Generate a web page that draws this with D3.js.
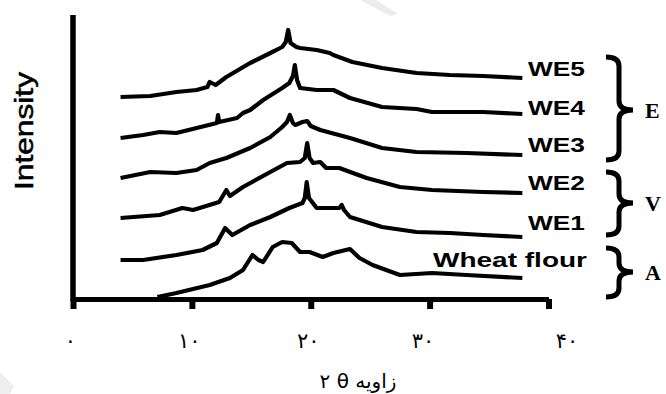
<!DOCTYPE html>
<html>
<head>
<meta charset="utf-8">
<script src="https://cdn.jsdelivr.net/npm/d3@7"></script>
<style>
  body { margin: 0; background: #fff; }
  svg { display: block; }
</style>
</head>
<body>
<script>
// 2θ (degrees), intensity (arbitrary units, stacked offsets as drawn)
const we5 = [[4.0,201],[6.5,202],[8.7,206],[10.4,208],[11.3,211],[11.5,216],[12.0,213],[12.9,221],[14.9,235],[16.6,245],[17.6,251],[17.9,256],[18.1,268],[18.3,255],[18.8,251],[19.1,250],[20.5,248],[21.6,245],[21.9,243],[23.5,236],[26.0,230],[28.9,225],[31.7,223],[34.5,222],[37.8,220]];
const we4 = [[4.0,160],[5.9,163],[7.3,166],[8.7,165],[10.4,170],[12.1,175],[12.2,183],[12.3,176],[13.8,180],[14.3,185],[14.9,188],[16.0,198],[17.6,210],[18.2,215],[18.5,222],[18.66,233],[18.85,218],[19.1,210],[20.5,208],[21.9,208],[23.3,200],[26.0,191],[28.9,189],[30.2,186],[34.5,186],[37.8,184]];
const we3 = [[4.0,120],[6.5,126],[8.7,125],[10.4,128],[11.5,135],[12.9,140],[14.9,150],[16.6,161],[17.6,171],[18.0,176],[18.24,183],[18.5,175],[18.7,173],[19.3,176],[19.7,177],[20.0,172],[20.8,168],[23.3,160],[26.0,150],[28.9,146],[33.1,145],[37.8,143]];
const we2 = [[4.0,80],[7.3,83],[9.2,90],[10.1,88],[12.3,96],[12.9,108],[13.2,102],[14.3,111],[16.6,126],[18.0,135],[19.1,136],[19.5,140],[19.7,155],[19.9,140],[20.2,135],[20.8,136],[21.3,130],[22.4,130],[24.7,120],[27.5,111],[30.2,108],[34.5,106],[37.8,105]];
const we1 = [[4.0,38],[5.9,38],[8.7,43],[10.9,48],[12.1,55],[12.8,70],[13.4,63],[14.9,73],[16.6,81],[18.2,90],[19.3,95],[19.5,100],[19.66,116],[19.85,100],[20.5,90],[21.8,90],[22.4,90],[22.6,93],[22.8,88],[23.3,81],[26.0,71],[28.9,66],[31.7,65],[34.5,63],[37.8,61]];
const wheat = [[7.1,1],[8.7,5],[11.5,13],[13.2,20],[14.3,28],[15.1,43],[15.6,38],[16.0,36],[16.8,51],[17.6,56],[18.4,55],[19.1,46],[19.9,46],[21.0,41],[21.9,45],[23.3,49],[24.1,40],[25.2,33],[27.5,23],[30.2,25],[33.1,23],[37.8,20]];

const seriesNames = ['WE5', 'WE4', 'WE3', 'WE2', 'WE1', 'Wheat flour'];
const seriesData = [we5, we4, we3, we2, we1, wheat];
const xTicks = [0, 10, 20, 30, 40];
const groupNames = ['E', 'V', 'A'];

const width = 666, height = 394;

const svg = d3.select('body').append('svg')
    .attr('width', width)
    .attr('height', height);

// faint scan watermark marks
svg.append('path').attr('d', 'M360,0L376,0L398,14L390,16Z').attr('fill', '#ececec');
svg.append('path').attr('d', 'M0,372L14,386L10,394L0,394Z').attr('fill', '#eeeeee');

const x = d3.scaleLinear().domain([0, 40]).range([73, 548.5]);
const y = d3.scaleLinear().domain([0, 283]).range([298, 15]);

const persian = d => String(d).replace(/\d/g, c => '۰۱۲۳۴۵۶۷۸۹'[c]);

// x axis
const xAxis = svg.append('g')
    .attr('transform', 'translate(0,299)')
    .call(d3.axisBottom(x).tickValues(xTicks).tickSize(10).tickSizeOuter(0).tickFormat(persian));
xAxis.select('.domain').attr('stroke', '#000').attr('stroke-width', 5);
xAxis.selectAll('.tick line').attr('stroke', '#000').attr('stroke-width', 6);
xAxis.selectAll('.tick text')
    .attr('y', 49).attr('dy', 0)
    .attr('dx', d => d === 40 ? 18 : (d === 30 ? -7 : -3))
    .attr('font-family', 'DejaVu Sans')
    .attr('font-size', 21)
    .attr('fill', '#000');

// y axis
const yAxis = svg.append('g')
    .attr('transform', 'translate(73,0)')
    .call(d3.axisLeft(y).tickValues([]).tickSizeOuter(0));
yAxis.select('.domain').attr('stroke', '#000').attr('stroke-width', 5.5)
    .attr('d', `M0,${y(283)}V${y(0) + 3}`);

// traces
const line = d3.line().x(d => x(d[0])).y(d => y(d[1]));
svg.selectAll('path.trace')
    .data(seriesData)
    .join('path')
    .attr('class', 'trace')
    .attr('d', line)
    .attr('fill', 'none')
    .attr('stroke', '#000')
    .attr('stroke-width', 4.2)
    .attr('stroke-linejoin', 'round');

// series labels
const labelPos = [[528, 76, 57], [528, 115, 57], [528, 152, 57], [528, 190, 57], [528, 230, 57], [433, 267, 154]];
svg.selectAll('text.lbl')
    .data(seriesNames)
    .join('text')
    .attr('class', 'lbl')
    .attr('x', (d, i) => labelPos[i][0])
    .attr('y', (d, i) => labelPos[i][1])
    .attr('textLength', (d, i) => labelPos[i][2])
    .attr('lengthAdjust', 'spacingAndGlyphs')
    .attr('font-family', 'Liberation Sans, Arial, sans-serif')
    .attr('font-weight', 'bold')
    .attr('font-size', 21)
    .text(d => d);

// braces
const braces = [[57, 160, 110], [172, 235, 203], [248, 297, 272]];
const brace = ([t, b, m]) => {
  const x0 = 606, x1 = 619, x2 = 633, r = 9;
  return `M${x0},${t}Q${x1},${t} ${x1},${t + r}L${x1},${m - r}Q${x1},${m} ${x2},${m}` +
         `Q${x1},${m} ${x1},${m + r}L${x1},${b - r}Q${x1},${b} ${x0},${b}`;
};
svg.selectAll('path.brace')
    .data(braces)
    .join('path')
    .attr('class', 'brace')
    .attr('d', brace)
    .attr('fill', 'none')
    .attr('stroke', '#000')
    .attr('stroke-width', 5);

svg.selectAll('text.grp')
    .data(groupNames)
    .join('text')
    .attr('class', 'grp')
    .attr('x', 645)
    .attr('y', (d, i) => braces[i][2] + 8)
    .attr('font-family', 'Liberation Serif, Times New Roman, serif')
    .attr('font-weight', 'bold')
    .attr('font-size', 22)
    .text(d => d);

// axis titles
svg.append('text')
    .attr('transform', 'translate(33,131) rotate(-90)')
    .attr('text-anchor', 'middle')
    .attr('font-family', 'Liberation Sans, Arial, sans-serif')
    .attr('font-size', 25)
    .attr('stroke', '#000')
    .attr('stroke-width', 0.5)
    .attr('textLength', 118)
    .attr('lengthAdjust', 'spacingAndGlyphs')
    .text('Intensity');

svg.append('text')
    .attr('x', 358)
    .attr('y', 388)
    .attr('text-anchor', 'middle')
    .attr('font-family', 'DejaVu Sans')
    .attr('font-size', 20)
    .text('۲ θ زاویه');
</script>
</body>
</html>
